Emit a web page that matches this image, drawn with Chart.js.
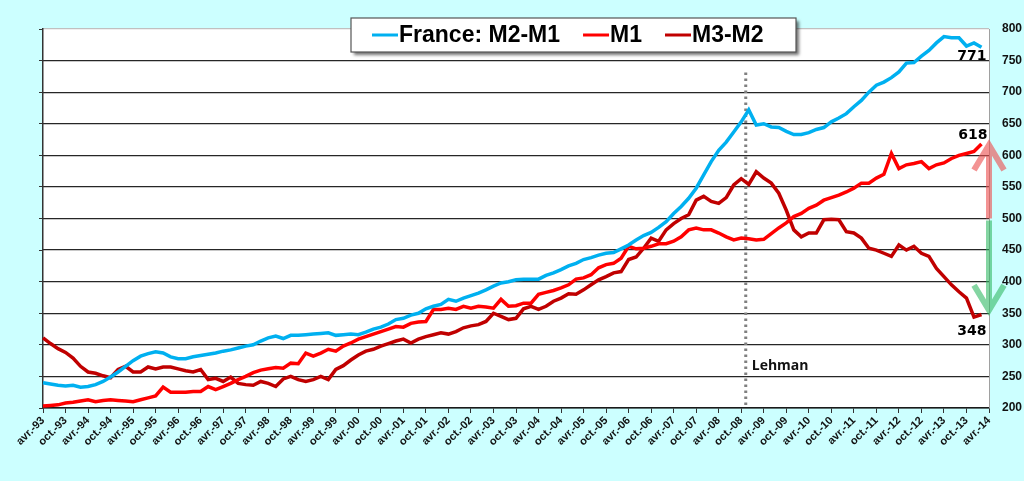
<!DOCTYPE html>
<html>
<head>
<meta charset="utf-8">
<script src="https://cdn.jsdelivr.net/npm/chart.js@4.4.0/dist/chart.umd.min.js"></script>
<style>
  html, body { margin: 0; padding: 0; background: #CCFFFF; }
  #wrap { width: 1024px; height: 481px; }
</style>
</head>
<body>
<div id="wrap"><canvas id="chart" width="1024" height="481"></canvas></div>
<script>
// bi-monthly points, avr.-93 .. avr.-14
const labels = [
  'avr.-93','juin-93','août-93','oct.-93','déc.-93',
  'févr.-94','avr.-94','juin-94','août-94','oct.-94','déc.-94',
  'févr.-95','avr.-95','juin-95','août-95','oct.-95','déc.-95',
  'févr.-96','avr.-96','juin-96','août-96','oct.-96','déc.-96',
  'févr.-97','avr.-97','juin-97','août-97','oct.-97','déc.-97',
  'févr.-98','avr.-98','juin-98','août-98','oct.-98','déc.-98',
  'févr.-99','avr.-99','juin-99','août-99','oct.-99','déc.-99',
  'févr.-00','avr.-00','juin-00','août-00','oct.-00','déc.-00',
  'févr.-01','avr.-01','juin-01','août-01','oct.-01','déc.-01',
  'févr.-02','avr.-02','juin-02','août-02','oct.-02','déc.-02',
  'févr.-03','avr.-03','juin-03','août-03','oct.-03','déc.-03',
  'févr.-04','avr.-04','juin-04','août-04','oct.-04','déc.-04',
  'févr.-05','avr.-05','juin-05','août-05','oct.-05','déc.-05',
  'févr.-06','avr.-06','juin-06','août-06','oct.-06','déc.-06',
  'févr.-07','avr.-07','juin-07','août-07','oct.-07','déc.-07',
  'févr.-08','avr.-08','juin-08','août-08','oct.-08','déc.-08',
  'févr.-09','avr.-09','juin-09','août-09','oct.-09','déc.-09',
  'févr.-10','avr.-10','juin-10','août-10','oct.-10','déc.-10',
  'févr.-11','avr.-11','juin-11','août-11','oct.-11','déc.-11',
  'févr.-12','avr.-12','juin-12','août-12','oct.-12','déc.-12',
  'févr.-13','avr.-13','juin-13','août-13','oct.-13','déc.-13',
  'févr.-14','avr.-14'
];

const m2m1 = [
  240,238,236,235,236,233,234,237,242,249,
  257,266,275,282,286,289,287,281,278,278,
  281,283,285,287,290,292,295,298,300,306,
  311,314,310,315,315,316,317,318,319,315,
  316,317,316,320,325,328,333,340,342,347,
  350,357,361,364,372,369,374,378,382,387,
  393,398,400,403,404,404,404,410,414,419,
  425,429,435,438,442,445,446,452,458,466,
  473,478,486,495,508,519,532,548,569,590,
  608,621,637,653,672,648,650,645,644,638,
  633,633,636,641,644,653,659,666,677,687,
  700,711,716,723,732,746,747,757,766,778,
  788,786,786,773,778,771,null
];

const m1 = [
  203,204,205,208,209,211,213,210,212,213,
  212,211,210,213,216,219,233,225,225,225,
  226,226,234,229,234,239,245,250,256,260,
  262,264,263,271,270,287,282,287,293,290,
  298,303,309,313,317,321,325,329,328,334,
  336,337,356,356,358,356,361,358,361,360,
  358,372,361,362,366,366,380,383,386,390,
  395,404,406,411,422,427,429,437,456,452,
  453,456,460,460,464,471,482,485,482,482,
  477,471,466,469,468,466,467,476,485,493,
  503,508,516,521,529,533,537,542,548,556,
  556,564,570,603,579,585,587,590,579,585,
  588,595,600,603,606,618,null
];

const m3m2 = [
  311,302,294,288,279,266,257,255,251,248,
  261,266,257,257,265,262,265,265,262,259,
  257,261,245,247,242,249,239,237,236,242,
  239,234,246,250,245,242,245,250,245,261,
  267,276,284,290,293,298,302,306,309,303,
  309,313,316,319,317,321,327,330,332,337,
  350,345,340,342,357,361,356,361,369,374,
  381,380,387,395,403,408,414,416,435,439,
  453,469,464,482,492,500,506,529,535,527,
  524,533,553,563,554,574,564,556,540,513,
  482,471,477,477,498,499,498,479,477,469,
  453,450,445,440,458,450,456,445,440,421,
  408,395,384,374,344,348,null
];

const seriesNames = ['France: M2-M1', 'M1', 'M3-M2'];
const yMin = 200, yMax = 800, yStep = 50;
const lehmanLabel = 'oct.-08';
const lehmanText = 'Lehman';
// change arrows on the right edge: [from, to]
const upArrow = [500, 621];
const downArrow = [497, 350];

const FONT = "'Liberation Sans', Arial, sans-serif";

function lastIndex(arr) {
  for (let i = arr.length - 1; i >= 0; i--) if (arr[i] !== null) return i;
  return -1;
}

const background = {
  id: 'background',
  beforeDraw(chart) {
    const {ctx, chartArea: a} = chart;
    ctx.save();
    ctx.fillStyle = '#CCFFFF';
    ctx.fillRect(0, 0, chart.width, chart.height);
    ctx.fillStyle = '#ffffff';
    ctx.fillRect(a.left, a.top, a.right - a.left, a.bottom - a.top);
    ctx.restore();
  }
};

const lehman = {
  id: 'lehman',
  beforeDatasetsDraw(chart) {
    const {ctx, chartArea: a, scales} = chart;
    const x = scales.x.getPixelForValue(labels.indexOf(lehmanLabel) + 0.6);
    ctx.save();
    ctx.strokeStyle = '#808080';
    ctx.lineWidth = 3;
    ctx.setLineDash([2.5, 3.5]);
    ctx.beginPath();
    ctx.moveTo(x, scales.y.getPixelForValue(731));
    ctx.lineTo(x, a.bottom);
    ctx.stroke();
    ctx.setLineDash([]);
    ctx.fillStyle = '#111';
    ctx.font = "bold 14px 'Open Sans', sans-serif";
    ctx.textBaseline = 'alphabetic';
    ctx.fillText(lehmanText, x + 6, scales.y.getPixelForValue(260));
    ctx.restore();
  }
};

const overlay = {
  id: 'overlay',
  afterDraw(chart) {
    const {ctx, chartArea: a, scales} = chart;
    ctx.save();

    // last values
    ctx.font = "bold 14px 'DejaVu Sans', sans-serif";
    ctx.fillStyle = '#000';
    ctx.textAlign = 'right';
    const offs = [[5, 13], [6, -5], [5, 20]];
    chart.data.datasets.forEach((ds, i) => {
      const idx = lastIndex(ds.data);
      const pt = chart.getDatasetMeta(i).data[idx];
      ctx.fillText(String(ds.data[idx]), pt.x + offs[i][0], pt.y + offs[i][1]);
    });

    // arrows
    const ax = a.right;
    function arrow(from, to, color) {
      const y0 = scales.y.getPixelForValue(from);
      const y1 = scales.y.getPixelForValue(to);
      const dir = y1 < y0 ? 1 : -1;
      ctx.strokeStyle = color;
      ctx.lineWidth = 6;
      ctx.lineCap = 'butt';
      ctx.lineJoin = 'miter';
      ctx.beginPath();
      ctx.moveTo(ax, y0);
      ctx.lineTo(ax, y1 + dir * 2);
      ctx.moveTo(ax - 15, y1 + dir * 28);
      ctx.lineTo(ax, y1 + dir * 3);
      ctx.lineTo(ax + 15, y1 + dir * 28);
      ctx.stroke();
    }
    arrow(upArrow[0], upArrow[1], 'rgba(236,80,80,0.62)');
    arrow(downArrow[0], downArrow[1], 'rgba(50,185,100,0.6)');

    // legend box
    const bx = 351, by = 18, bw = 445, bh = 34;
    ctx.shadowColor = 'rgba(0,0,0,0.55)';
    ctx.shadowOffsetX = 3;
    ctx.shadowOffsetY = 3;
    ctx.shadowBlur = 3;
    ctx.fillStyle = '#ffffff';
    ctx.fillRect(bx, by, bw, bh);
    ctx.shadowColor = 'transparent';
    ctx.strokeStyle = '#555';
    ctx.lineWidth = 1.2;
    ctx.strokeRect(bx, by, bw, bh);

    ctx.font = 'bold 23px ' + FONT;
    ctx.textAlign = 'left';
    ctx.textBaseline = 'middle';
    let x = bx + 21;
    const cy = by + bh / 2 + 1;
    chart.data.datasets.forEach((ds) => {
      ctx.strokeStyle = ds.borderColor;
      ctx.lineWidth = 3;
      ctx.beginPath();
      ctx.moveTo(x, cy - 1);
      ctx.lineTo(x + 26, cy - 1);
      ctx.stroke();
      x += 27;
      ctx.fillStyle = '#000';
      ctx.fillText(ds.label, x, cy);
      x += ctx.measureText(ds.label).width + 23;
    });
    ctx.restore();
  }
};

new Chart(document.getElementById('chart'), {
  type: 'line',
  data: {
    labels: labels,
    datasets: [
      { label: seriesNames[0], data: m2m1, borderColor: '#00B0F0' },
      { label: seriesNames[1], data: m1, borderColor: '#FF0000' },
      { label: seriesNames[2], data: m3m2, borderColor: '#C00000' }
    ].map(d => Object.assign(d, {
      yAxisID: 'y', borderWidth: 3.5, pointRadius: 0, tension: 0, fill: false, spanGaps: false
    }))
  },
  options: {
    responsive: false,
    animation: false,
    layout: { padding: { top: 29, left: 39, right: 0, bottom: 0 } },
    plugins: { legend: { display: false }, tooltip: { enabled: false } },
    scales: {
      x: {
        type: 'category',
        offset: false,
        afterFit: (s) => { s.height = 73; },
        border: { color: '#1a1a1a', width: 1.5 },
        grid: { drawOnChartArea: false, tickLength: 5, color: '#333' },
        ticks: {
          autoSkip: false,
          minRotation: 45,
          maxRotation: 45,
          padding: 1,
          color: '#111',
          font: { family: FONT, size: 11, weight: 'bold' },
          callback: function (v, i) {
            const l = labels[i];
            return (l.startsWith('avr.') || l.startsWith('oct.')) ? l : null;
          }
        }
      },
      yL: {
        position: 'left',
        min: yMin, max: yMax,
        afterFit: (s) => { s.width = 4; },
        border: { color: '#333', width: 1.5 },
        grid: { drawOnChartArea: false, tickLength: 4, color: '#333' },
        ticks: { display: false, stepSize: yStep }
      },
      y: {
        position: 'right',
        min: yMin, max: yMax,
        afterFit: (s) => { s.width = 35; },
        border: { color: '#a0a0a0', width: 1 },
        grid: {
          drawTicks: false,
          lineWidth: 1.2,
          color: (c) => c.tick && c.tick.value === yMax ? '#c0c0c0' : '#262626'
        },
        ticks: {
          stepSize: yStep,
          padding: 13,
          color: '#111',
          font: { family: FONT, size: 12, weight: 'bold' }
        }
      }
    }
  },
  plugins: [background, lehman, overlay]
});
</script>
</body>
</html>
